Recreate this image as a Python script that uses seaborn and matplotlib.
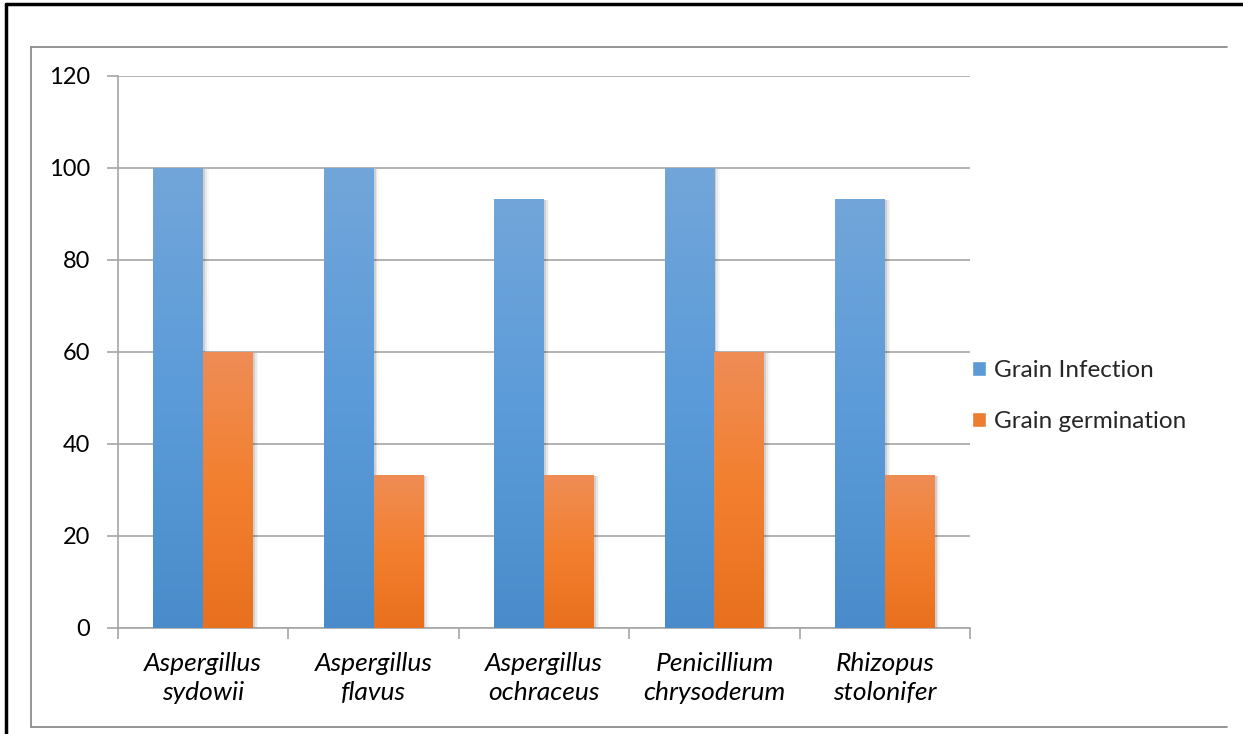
import numpy as np
import pandas as pd
import matplotlib
matplotlib.use("Agg")
import matplotlib.pyplot as plt
import seaborn as sns
from matplotlib.colors import LinearSegmentedColormap
from matplotlib.lines import Line2D
from matplotlib.patches import Rectangle

categories = ["Aspergillus\nsydowii", "Aspergillus\nflavus", "Aspergillus\nochraceus",
              "Penicillium\nchrysoderum", "Rhizopus\nstolonifer"]
grain_infection = [100, 100, 93.3, 100, 93.3]
grain_germination = [60, 33.3, 33.3, 60, 33.3]
series_names = ["Grain Infection", "Grain germination"]
y_ticks = [0, 20, 40, 60, 80, 100, 120]

df = pd.DataFrame({
    "category": categories * 2,
    "value": grain_infection + grain_germination,
    "series": [series_names[0]] * len(categories) + [series_names[1]] * len(categories),
})

sns.set_theme(style="white")
plt.rcParams["font.family"] = ["Lato", "DejaVu Sans"]

W, H = 1243, 734
fig = plt.figure(figsize=(W / 100, H / 100), dpi=100)
ax = fig.add_axes([118 / W, 1 - 628 / H, (970 - 118) / W, (628 - 76) / H])

blue_mid, orange_mid = "#5B9BD5", "#ED7D31"
sns.barplot(data=df, x="category", y="value", hue="series", order=categories,
            hue_order=series_names, palette=[blue_mid, orange_mid], saturation=1,
            width=0.585, dodge=True, ax=ax, legend=False, zorder=3, linewidth=0)

ax.set_ylim(0, 120)
ax.set_xlim(-0.5, len(categories) - 0.5)
ax.set_yticks(y_ticks)
ax.set_yticklabels([str(t) for t in y_ticks], fontsize=17)
ax.set_xlabel("")
ax.set_ylabel("")

grid_c = "#A6A6A6"
ax.yaxis.grid(True, color=grid_c, linewidth=1.2, zorder=0)
ax.set_axisbelow(True)
for s in ["top", "right"]:
    ax.spines[s].set_visible(False)
for s in ["left", "bottom"]:
    ax.spines[s].set_color(grid_c)
    ax.spines[s].set_linewidth(1.2)

ax.tick_params(axis="y", which="major", left=True, length=8, width=1.2, color=grid_c, pad=12, labelcolor="black")
ax.set_xticks(range(len(categories)))
ax.set_xticklabels(categories, fontsize=19, style="italic", linespacing=1.35)
ax.tick_params(axis="x", which="major", bottom=False, pad=11, labelcolor="black")
ax.set_xticks(np.arange(-0.5, len(categories), 1.0), minor=True)
ax.tick_params(axis="x", which="minor", bottom=True, length=8, width=1.2, color=grid_c)

# gradient fill + soft shadow for each bar
cmap_list = [
    LinearSegmentedColormap.from_list("b", ["#4A8CCB", "#5B9BD9", "#72A6DA"]),
    LinearSegmentedColormap.from_list("o", ["#E8701E", "#F37F2E", "#EF8D56"]),
]
grad = np.linspace(0, 1, 256).reshape(-1, 1)
for ci, cont in enumerate(ax.containers):
    cm = cmap_list[ci]
    for p in cont.patches:
        x0, y0 = p.get_x(), p.get_y()
        w, h = p.get_width(), p.get_height()
        if h <= 0:
            continue
        for k, a in [(0.012, 0.10), (0.022, 0.06), (0.032, 0.03)]:
            sh = Rectangle((x0 + k, y0), w, h - 0.3, facecolor="black", alpha=a,
                           linewidth=0, zorder=2.5)
            ax.add_patch(sh)
        im = ax.imshow(grad, extent=[x0, x0 + w, y0, y0 + h], origin="lower", cmap=cm,
                       aspect="auto", zorder=3.5)
        im.set_clip_path(p)
ax.set_xlim(-0.5, len(categories) - 0.5)
ax.set_ylim(0, 120)

handles = [Rectangle((0, 0), 1, 1, facecolor=blue_mid), Rectangle((0, 0), 1, 1, facecolor=orange_mid)]
fig.legend(handles, series_names, loc="center left", bbox_to_anchor=(950 / W, 1 - 396 / H),
           frameon=False, fontsize=17.5, handlelength=0.6, handleheight=0.6,
           handletextpad=0.3, labelspacing=1.25)

# outer borders
fig.add_artist(Line2D([6 / W, 6 / W], [0, 1 - 4 / H], color="black", linewidth=2.5, transform=fig.transFigure))
fig.add_artist(Line2D([6 / W, 1], [1 - 4 / H, 1 - 4 / H], color="black", linewidth=2.5, transform=fig.transFigure))
gc = "#8C8C8C"
fig.add_artist(Line2D([31 / W, 31 / W], [1 - 727 / H, 1 - 47 / H], color=gc, linewidth=1.3, transform=fig.transFigure))
fig.add_artist(Line2D([31 / W, 1227 / W], [1 - 47 / H, 1 - 47 / H], color=gc, linewidth=1.3, transform=fig.transFigure))
fig.add_artist(Line2D([31 / W, 1227 / W], [1 - 727 / H, 1 - 727 / H], color=gc, linewidth=1.3, transform=fig.transFigure))

fig.savefig("out.png", dpi=100, facecolor="white")
